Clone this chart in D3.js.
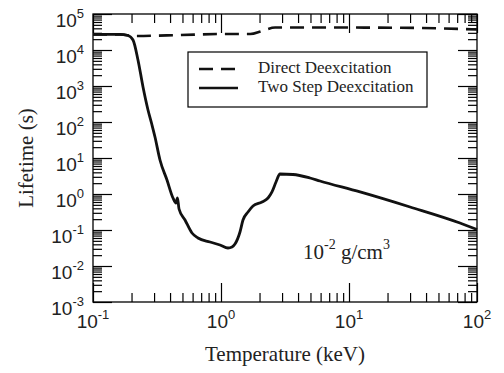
<!DOCTYPE html>
<html>
<head>
<meta charset="utf-8">
<script src="https://cdn.jsdelivr.net/npm/d3@7"></script>
<style>
  body { margin: 0; background: #fff; }
  svg { display: block; }
  .tick line { stroke: #000; stroke-width: 1.2px; }
  .lbl { font-family: "Liberation Sans", Arial, sans-serif; fill: #222; }
  .serif { font-family: "Liberation Serif", "Times New Roman", serif; fill: #222; }
</style>
</head>
<body>
<div id="chart"></div>
<script>
// temperature (keV) and lifetime (s)
let directT = [0.1, 0.1625, 0.213, 0.477, 1.0, 1.69, 2.09, 2.65, 10, 35.6, 100];
let directLife = [2.7e4, 2.7e4, 2.45e4, 2.6e4, 2.78e4, 2.78e4, 3.37e4, 4.2e4, 4.2e4, 4.1e4, 3.7e4];

let twoStepT = [0.1, 0.1625, 0.1877, 0.2054, 0.2246, 0.2459, 0.269, 0.289, 0.305, 0.3337, 0.3785,
  0.4217, 0.445, 0.457, 0.47, 0.5234, 0.5934, 0.661, 0.8204, 0.982, 1.134, 1.219, 1.286, 1.407,
  1.485, 1.625, 1.778, 2.09, 2.33, 2.502, 2.69, 2.89, 3.65, 4.96, 5.93, 12.2, 30.0, 73.6, 100];
let twoStepLife = [2.7e4, 2.7e4, 2.53e4, 1.9e4, 5.3e3, 938, 215, 82.6, 38.3, 8.8, 2.45,
  0.774, 0.562, 0.774, 0.383, 0.19, 0.0826, 0.06, 0.0464, 0.0383, 0.0316, 0.0337, 0.0408, 0.088,
  0.19, 0.316, 0.464, 0.6, 0.774, 1.14, 2.15, 3.59, 3.48, 2.78, 2.3, 1.14, 0.435, 0.156, 0.103];

let xDecades = [-1, 0, 1, 2];
let yDecades = [-3, -2, -1, 0, 1, 2, 3, 4, 5];
let legendNames = ["Direct Deexcitation", "Two Step Deexcitation"];

let width = 504, height = 373;
let pLeft = 93, pRight = 477, pTop = 14, pBottom = 302;

let x = d3.scaleLog().domain([0.1, 100]).range([pLeft, pRight]);
let y = d3.scaleLog().domain([1e-3, 1e5]).range([pBottom, pTop]);

let svg = d3.select("#chart").append("svg")
  .attr("width", width).attr("height", height);

/* tick values */
function minorTicks(decades) {
  let out = [];
  decades.slice(0, -1).forEach(p => {
    for (let k = 2; k <= 9; k++) out.push(k * Math.pow(10, p));
  });
  return out;
}
let xMajor = xDecades.map(p => Math.pow(10, p));
let yMajor = yDecades.map(p => Math.pow(10, p));
let xMinor = minorTicks(xDecades);
let yMinor = minorTicks(yDecades);

function addAxis(gen, tr, values, size) {
  let g = svg.append("g").attr("transform", tr)
    .call(gen.tickValues(values).tickSize(-size).tickSizeOuter(0).tickFormat(""));
  g.select(".domain").remove();
}
[[xMinor, 9], [xMajor, 19]].forEach(([v, s]) => {
  addAxis(d3.axisBottom(x), `translate(0,${pBottom})`, v, s);
  addAxis(d3.axisTop(x), `translate(0,${pTop})`, v, s);
});
[[yMinor, 9], [yMajor, 19]].forEach(([v, s]) => {
  addAxis(d3.axisLeft(y), `translate(${pLeft},0)`, v, s);
  addAxis(d3.axisRight(y), `translate(${pRight},0)`, v, s);
});

svg.append("rect")
  .attr("x", pLeft).attr("y", pTop)
  .attr("width", pRight - pLeft).attr("height", pBottom - pTop)
  .attr("fill", "none").attr("stroke", "#000").attr("stroke-width", 1.3);

/* tick labels */
xDecades.forEach(p => {
  let t = svg.append("text").attr("class", "lbl")
    .attr("x", x(Math.pow(10, p))).attr("y", 328)
    .attr("text-anchor", "middle").style("font-size", "19px");
  t.append("tspan").text("10");
  t.append("tspan").attr("dy", -9).style("font-size", "13px").text(p);
});
yDecades.forEach(p => {
  let t = svg.append("text").attr("class", "lbl")
    .attr("x", 84).attr("y", y(Math.pow(10, p)) + 13)
    .attr("text-anchor", "end").style("font-size", "19px");
  t.append("tspan").text("10");
  t.append("tspan").attr("dy", -9).style("font-size", "13px").text(p);
});

/* axis titles */
svg.append("text").attr("class", "serif")
  .attr("x", (pLeft + pRight) / 2).attr("y", 361)
  .attr("text-anchor", "middle").style("font-size", "21px")
  .text("Temperature (keV)");

svg.append("text").attr("class", "serif")
  .attr("transform", `translate(33,${(pTop + pBottom) / 2}) rotate(-90)`)
  .attr("text-anchor", "middle").style("font-size", "21px")
  .text("Lifetime (s)");

/* curves */
let line = d3.line()
  .x(d => x(d[0]))
  .y(d => y(d[1]))
  .curve(d3.curveMonotoneX);

svg.append("path")
  .attr("d", line(d3.zip(directT, directLife)))
  .attr("fill", "none").attr("stroke", "#111")
  .attr("stroke-width", 2.6).attr("stroke-dasharray", "14,8");

svg.append("path")
  .attr("d", line(d3.zip(twoStepT, twoStepLife)))
  .attr("fill", "none").attr("stroke", "#111")
  .attr("stroke-width", 2.8).attr("stroke-linejoin", "round");

/* legend */
svg.append("rect")
  .attr("x", 188).attr("y", 52).attr("width", 239).attr("height", 55)
  .attr("fill", "#fff").attr("stroke", "#000").attr("stroke-width", 1.2);

legendNames.forEach((name, i) => {
  let ly = 69 + i * 19;
  svg.append("line")
    .attr("x1", 199).attr("x2", 238).attr("y1", ly).attr("y2", ly)
    .attr("stroke", "#111").attr("stroke-width", 2.6)
    .attr("stroke-dasharray", i === 0 ? "14,8" : null);
  svg.append("text").attr("class", "serif")
    .attr("x", 258).attr("y", ly + 4)
    .style("font-size", "17px")
    .text(name);
});

/* density note */
let note = svg.append("text").attr("class", "serif")
  .attr("x", 303).attr("y", 259).style("font-size", "21px");
note.append("tspan").text("10");
note.append("tspan").attr("dy", -10).style("font-size", "14px").text("-2");
note.append("tspan").attr("dy", 10).text(" g/cm");
note.append("tspan").attr("dy", -10).style("font-size", "14px").text("3");
</script>
</body>
</html>
